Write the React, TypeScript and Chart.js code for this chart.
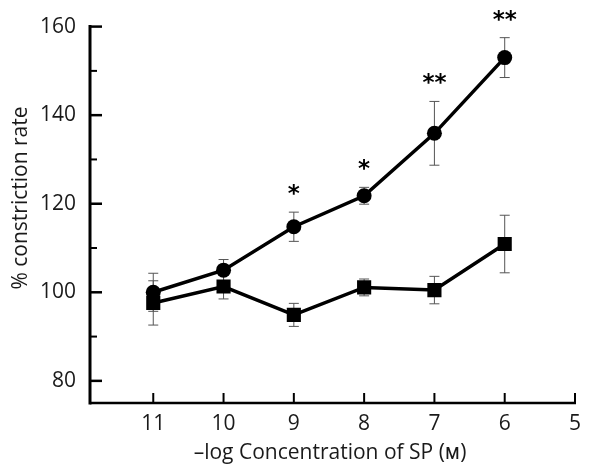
import React, { useEffect, useRef } from "react";
import { Chart, registerables } from "chart.js";

Chart.register(...registerables);

const xValues = [11, 10, 9, 8, 7, 6];
const xTicks = [11, 10, 9, 8, 7, 6, 5];
const yMajorTicks = [80, 100, 120, 140, 160];
const yMinorTicks = [90, 110, 130, 150];

const circleMeans = [100, 105, 114.8, 121.8, 135.9, 153];
const circleErr = [4.3, 2.4, 3.3, 1.9, 7.2, 4.5];
const squareMeans = [97.6, 101.3, 94.9, 101.1, 100.5, 110.9];
const squareErr = [5.0, 2.8, 2.6, 1.9, 3.1, 6.5];
const significance = ["", "", "*", "*", "**", "**"];

const xTitle = "\u2013log Concentration of SP (\u1D0D)";
const yTitle = "% constriction rate";

const FONT = '"Open Sans", "Noto Sans", sans-serif';
const TICK_SIZE = 21;
const TITLE_SIZE = 21;

const overlay = {
  id: "overlay",
  beforeDatasetsDraw(chart: any) {
    const { ctx } = chart;
    const x = chart.scales.x;
    const y = chart.scales.y;
    ctx.save();
    ctx.strokeStyle = "#555";
    ctx.lineWidth = 1;
    const draw = (means: number[], errs: number[]) => {
      means.forEach((m, i) => {
        const px = x.getPixelForValue(xValues[i]);
        const top = y.getPixelForValue(m + errs[i]);
        const bot = y.getPixelForValue(m - errs[i]);
        ctx.beginPath();
        ctx.moveTo(px, top);
        ctx.lineTo(px, bot);
        ctx.moveTo(px - 5, top);
        ctx.lineTo(px + 5, top);
        ctx.moveTo(px - 5, bot);
        ctx.lineTo(px + 5, bot);
        ctx.stroke();
      });
    };
    draw(circleMeans, circleErr);
    draw(squareMeans, squareErr);
    ctx.restore();
  },
  afterDraw(chart: any) {
    const { ctx, chartArea } = chart;
    const x = chart.scales.x;
    const y = chart.scales.y;
    const left = chartArea.left;
    const bottom = chartArea.bottom;
    ctx.save();
    ctx.strokeStyle = "#000";
    ctx.lineCap = "butt";
    ctx.lineWidth = 3;
    ctx.beginPath();
    ctx.moveTo(left, y.getPixelForValue(160) - 1.5);
    ctx.lineTo(left, bottom + 1.5);
    ctx.stroke();
    ctx.lineWidth = 2.5;
    ctx.beginPath();
    ctx.moveTo(left, bottom);
    ctx.lineTo(x.getPixelForValue(5) + 1, bottom);
    ctx.stroke();
    ctx.lineWidth = 2.5;
    yMajorTicks.forEach((v) => {
      const py = y.getPixelForValue(v);
      ctx.beginPath();
      ctx.moveTo(left, py);
      ctx.lineTo(left + 12, py);
      ctx.stroke();
    });
    ctx.lineWidth = 2;
    yMinorTicks.forEach((v) => {
      const py = y.getPixelForValue(v);
      ctx.beginPath();
      ctx.moveTo(left, py);
      ctx.lineTo(left + 7, py);
      ctx.stroke();
    });
    ctx.lineWidth = 2;
    xTicks.forEach((v) => {
      const px = x.getPixelForValue(v);
      ctx.beginPath();
      ctx.moveTo(px, bottom);
      ctx.lineTo(px, bottom - 10);
      ctx.stroke();
    });
    ctx.fillStyle = "#000";
    ctx.font = 'bold 23px "DejaVu Sans", sans-serif';
    ctx.textAlign = "center";
    ctx.textBaseline = "alphabetic";
    significance.forEach((s, i) => {
      if (!s) return;
      const px = x.getPixelForValue(xValues[i]);
      const top = y.getPixelForValue(circleMeans[i] + circleErr[i]);
      ctx.fillText(s, px, top - 24 + 13);
    });
    ctx.fillStyle = "#1a1a1a";
    ctx.font = `${TITLE_SIZE}px ${FONT}`;
    ctx.textBaseline = "middle";
    ctx.textAlign = "center";
    ctx.fillText(xTitle, 330, 453);
    ctx.translate(21, 198);
    ctx.rotate(-Math.PI / 2);
    ctx.fillText(yTitle, 0, 0);
    ctx.restore();
  },
};

export default function App() {
  const ref = useRef<HTMLCanvasElement>(null);
  useEffect(() => {
    if (!ref.current) return;
    const chart = new Chart(ref.current, {
      type: "line",
      data: {
        datasets: [
          {
            label: "Circles",
            data: xValues.map((v, i) => ({ x: v, y: circleMeans[i] })),
            borderColor: "#000",
            backgroundColor: "#000",
            borderWidth: 3.5,
            pointStyle: "circle",
            pointRadius: 7.5,
            pointBorderWidth: 0,
            tension: 0,
          },
          {
            label: "Squares",
            data: xValues.map((v, i) => ({ x: v, y: squareMeans[i] })),
            borderColor: "#000",
            backgroundColor: "#000",
            borderWidth: 3.5,
            pointStyle: "rect",
            pointRadius: 10,
            pointBorderWidth: 0,
            tension: 0,
          },
        ],
      },
      options: {
        responsive: false,
        animation: false,
        layout: { padding: { top: 24, right: 6, left: 0, bottom: 0 } },
        plugins: {
          legend: { display: false },
          tooltip: { enabled: false },
        },
        scales: {
          x: {
            type: "linear",
            reverse: true,
            min: 5,
            max: 11.9,
            grid: { display: false, drawTicks: false },
            border: { display: false },
            afterBuildTicks: (scale: any) => {
              scale.ticks = xTicks.map((v) => ({ value: v }));
            },
            afterFit: (scale: any) => {
              scale.height = 65;
            },
            ticks: {
              padding: 8,
              color: "#1a1a1a",
              font: { family: FONT, size: TICK_SIZE },
              callback: (v: any) => String(v),
            },
          },
          y: {
            type: "linear",
            min: 75,
            max: 160,
            grid: { display: false, drawTicks: false },
            border: { display: false },
            afterBuildTicks: (scale: any) => {
              scale.ticks = yMajorTicks.map((v) => ({ value: v }));
            },
            afterFit: (scale: any) => {
              scale.width = 90;
            },
            ticks: {
              padding: 14,
              color: "#1a1a1a",
              font: { family: FONT, size: TICK_SIZE },
              callback: (v: any) => String(v),
            },
          },
        },
      },
      plugins: [overlay],
    });
    return () => chart.destroy();
  }, []);
  return (
    <div style={{ position: "absolute", left: 0, top: 0, width: 589, height: 468, background: "#fff" }}>
      <canvas ref={ref} width={589} height={468} />
    </div>
  );
}
